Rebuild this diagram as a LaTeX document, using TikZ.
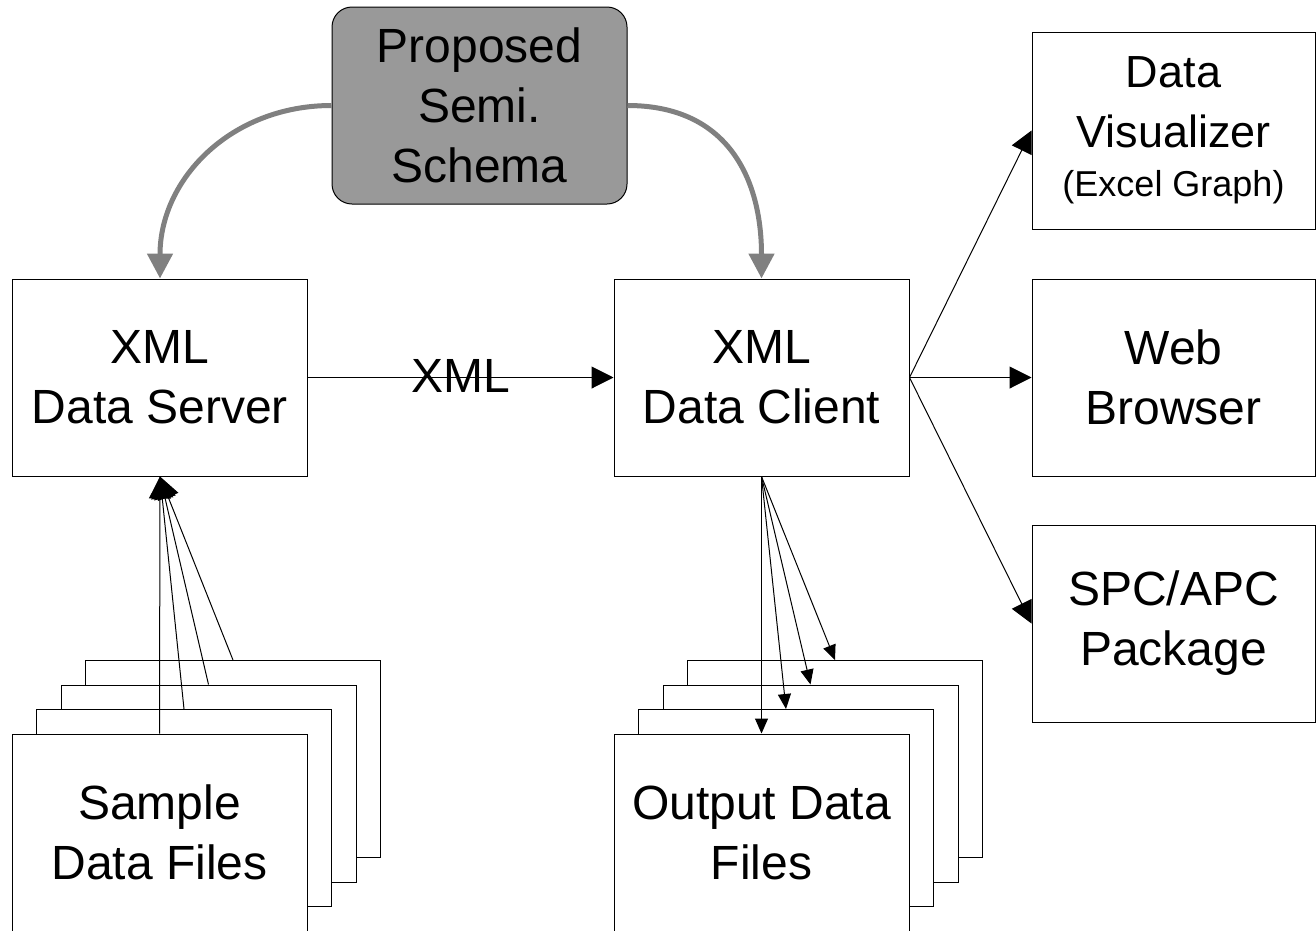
\documentclass[tikz,border=0pt]{standalone}
\usepackage{fontspec}
\setmainfont{Liberation Sans}
\usetikzlibrary{arrows.meta,calc}
\definecolor{schemafill}{HTML}{999999}
\definecolor{curvegray}{HTML}{808080}
\begin{document}
\begin{tikzpicture}[x=1pt,y=-1pt,
  box/.style={draw=black,line width=1pt,fill=white,minimum width=295pt,minimum height=197pt,inner sep=0pt,align=center,font=\fontsize{48}{60}\selectfont},
  rbox/.style={box,minimum width=283pt},
  schemabox/.style={box,fill=schemafill,rounded corners=20pt},
  conn/.style={line width=1pt,-{Triangle[length=22pt,width=22pt]}},
  smallconn/.style={line width=1pt,-{Triangle[length=15pt,width=13pt]}},
  schemaconn/.style={draw=curvegray,line width=5pt,-{Triangle[length=25pt,width=25pt]}},
  lbl/.style={font=\fontsize{48}{60}\selectfont,inner sep=0pt}
]
\useasboundingbox (0,0) rectangle (1316,930);

% top schema
\node[schemabox] (schema) at (479.5,105.5) {Proposed\\Semi.\\Schema};

% main boxes
\node[box] (server) at (160,377.5) {XML\\Data Server};
\node[box] (client) at (761.5,377.5) {XML\\Data Client};

% right column
\node[rbox,font=\fontsize{45}{60}\selectfont] (vis) at (1173.5,130.5) {Data\\Visualizer\\[-11pt]{\fontsize{36}{44}\selectfont (Excel Graph)}};
\node[rbox] (web) at (1173.5,377.5) {Web\\Browser};
\node[rbox] (spc) at (1173.5,623.5) {SPC/APC\\Package};

% sample data files stack
\node[box] (s4) at (233,759) {};
\node[box] (s3) at (208.5,783.5) {};
\node[box] (s2) at (184,808) {};
\node[box] (s1) at (159.5,832.5) {Sample\\Data Files};

% output data files stack
\node[box] (o4) at (835,759) {};
\node[box] (o3) at (810.5,783.5) {};
\node[box] (o2) at (786,808) {};
\node[box] (o1) at (761.5,832.5) {Output Data\\Files};

% schema curves
\draw[schemaconn] (schema.west) .. controls +(-100,0) and +(0,-100) .. (server.north);
\draw[schemaconn] (schema.east) .. controls +(100,0) and +(0,-100) .. (client.north);

% XML arrow
\draw[conn] (server.east) -- node[lbl,yshift=2pt] {XML} (client.west);

% client outputs
\draw[conn] (client.east) -- (vis.west);
\draw[conn] (client.east) -- (web.west);
\draw[conn] (client.east) -- (spc.west);

% sample files to server
\draw[conn] (s1.north) -- (server.south);
\draw[conn] (s2.north) -- (server.south);
\draw[conn] (s3.north) -- (server.south);
\draw[conn] (s4.north) -- (server.south);

% client to output files
\draw[smallconn] (client.south) -- (o1.north);
\draw[smallconn] (client.south) -- (o2.north);
\draw[smallconn] (client.south) -- (o3.north);
\draw[smallconn] (client.south) -- (o4.north);
\end{tikzpicture}
\end{document}
